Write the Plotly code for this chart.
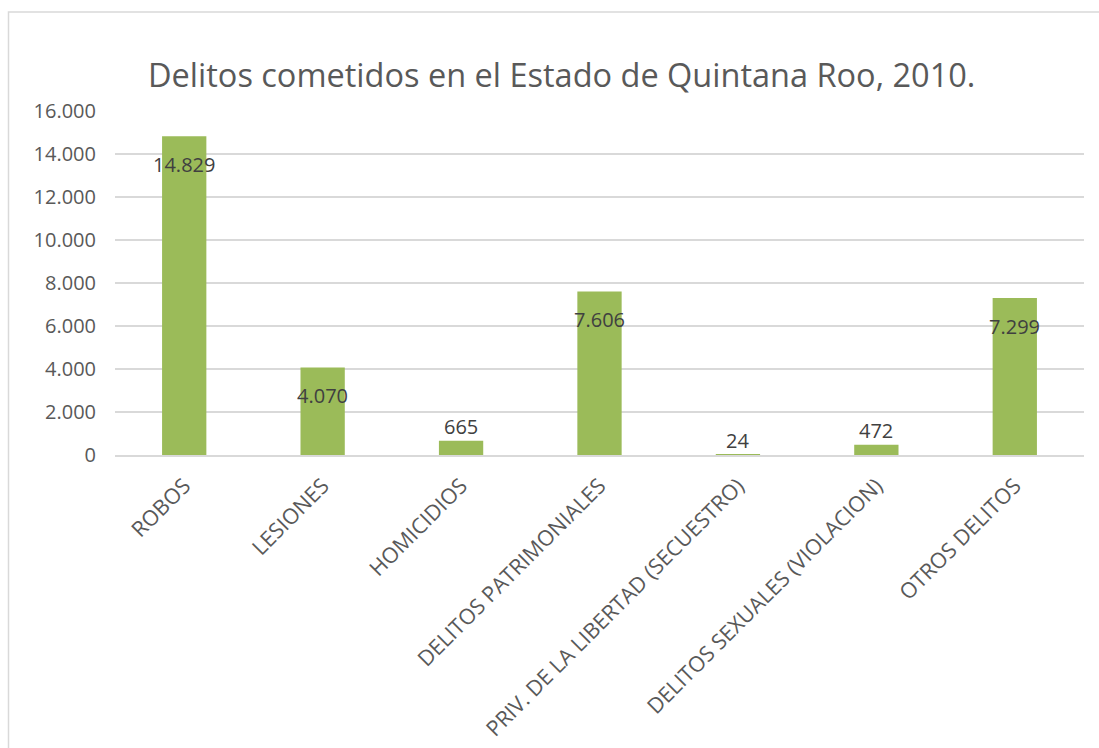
import plotly.graph_objects as go

categories = ["ROBOS", "LESIONES", "HOMICIDIOS", "DELITOS PATRIMONIALES",
              "PRIV. DE LA LIBERTAD (SECUESTRO)", "DELITOS SEXUALES (VIOLACION)", "OTROS DELITOS"]
values = [14829, 4070, 665, 7606, 24, 472, 7299]
title = "Delitos cometidos en el Estado de Quintana Roo, 2010."

FONT = "Open Sans"
TXT = "#595959"

W, H = 1099, 748
L, R, T, B = 115, 15, 111, 293
PW, PH = W - L - R, H - T - B

def px_x(x):
    return (x - L) / PW

def px_y(y):
    return (H - B - y) / PH

def fmt(v):
    return f"{v:,}".replace(",", ".")

fig = go.Figure(go.Bar(x=categories, y=values, marker_color="#9BBB59",
                       marker_line_width=0, hoverinfo="skip"))

annotations = []
for c, v in zip(categories, values):
    inside = v > 2000
    annotations.append(dict(x=c, y=v, text=fmt(v), showarrow=False,
                            yanchor="middle",
                            yshift=-28 if inside else 14,
                            font=dict(family=FONT, size=20, color="#404040")))
annotations.append(dict(x=px_x(561), y=px_y(74), xref="paper", yref="paper", text=title,
                        showarrow=False, xanchor="center", yanchor="middle",
                        font=dict(family=FONT, size=32.5, color=TXT)))

fig.update_layout(
    width=W, height=H,
    margin=dict(l=L, r=R, t=T, b=B),
    paper_bgcolor="white", plot_bgcolor="white",
    separators=",.",
    bargap=0.68,
    showlegend=False,
    annotations=annotations,
    shapes=[dict(type="rect", xref="paper", yref="paper",
                 x0=px_x(8.5), y0=px_y(900), x1=px_x(1400), y1=px_y(12),
                 line=dict(color="#D9D9D9", width=1.5), layer="below")],
    xaxis=dict(tickangle=-45, tickfont=dict(family=FONT, size=21.5, color=TXT),
               showgrid=False, showline=True, linecolor="#D9D9D9", linewidth=1.5,
               ticks="", ticklabelstandoff=8, automargin=False),
    yaxis=dict(range=[0, 16000], dtick=2000, tickformat=",d",
               tickfont=dict(family=FONT, size=20, color=TXT),
               showgrid=True, gridcolor="#D9D9D9", gridwidth=1.5,
               zeroline=False, showline=False, ticks="", ticklabelstandoff=18,
               automargin=False),
)

fig.write_html("out.html", config={"displayModeBar": False},
               post_script="document.body.style.margin='0';document.body.style.overflow='hidden';")
